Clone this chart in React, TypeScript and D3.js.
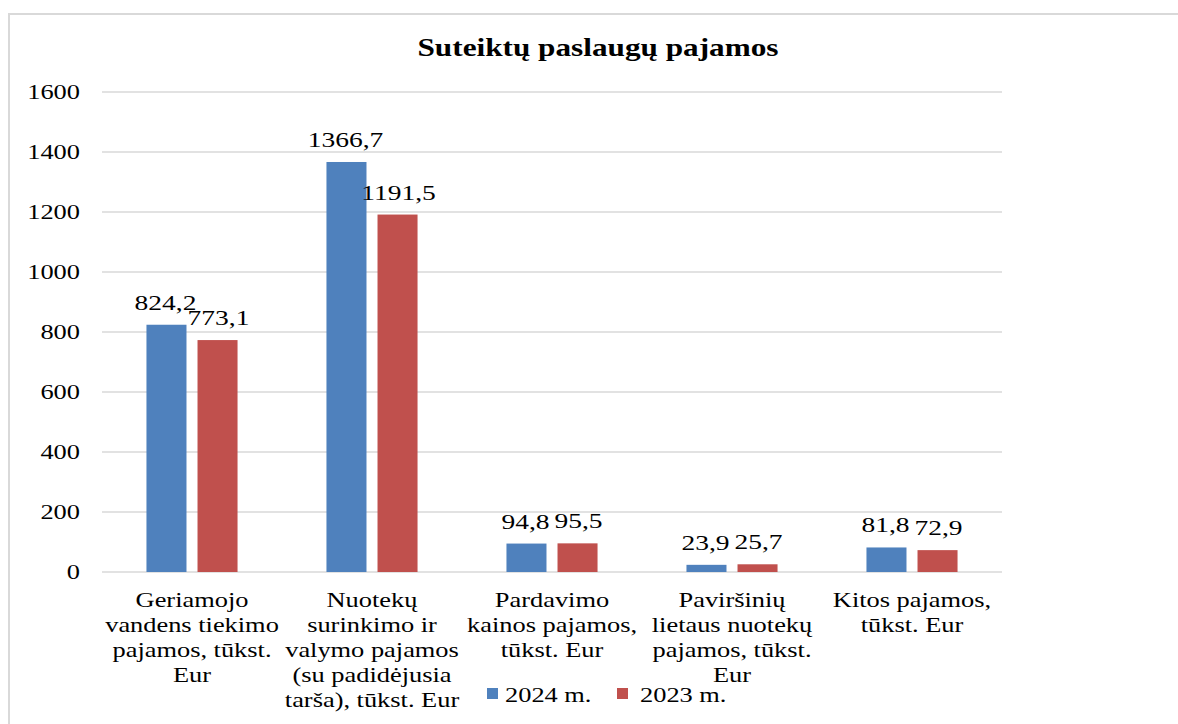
import React from "react";
import * as d3 from "d3";

const categories: string[][] = [
  ["Geriamojo", "vandens tiekimo", "pajamos, tūkst.", "Eur"],
  ["Nuotekų", "surinkimo ir", "valymo pajamos", "(su padidėjusia", "tarša), tūkst. Eur"],
  ["Pardavimo", "kainos pajamos,", "tūkst. Eur"],
  ["Paviršinių", "lietaus nuotekų", "pajamos, tūkst.", "Eur"],
  ["Kitos pajamos,", "tūkst. Eur"],
];
const categoryKeys = ["c1", "c2", "c3", "c4", "c5"];
const seriesNames = ["2024 m.", "2023 m."];
const values2024 = [824.2, 1366.7, 94.8, 23.9, 81.8];
const values2023 = [773.1, 1191.5, 95.5, 25.7, 72.9];
const seriesColors = ["#4F81BD", "#C0504D"];
const yTicks = [0, 200, 400, 600, 800, 1000, 1200, 1400, 1600];
const title = "Suteiktų paslaugų pajamos";

const W = 1178;
const H = 724;
const SX = 1.2;
const FONT = '"Liberation Serif", Tinos, "Times New Roman", Times, serif';

function T(props: {
  x: number;
  y: number;
  anchor?: string;
  size?: number;
  weight?: string;
  sx?: number;
  children: React.ReactNode;
}) {
  const { x, y, anchor = "middle", size = 22, weight = "normal", sx = SX } = props;
  return (
    <text
      transform={`translate(${x},${y}) scale(${sx},1)`}
      textAnchor={anchor}
      style={{ fontFamily: FONT, fontSize: size, fontWeight: weight as any }}
      fill="#000"
    >
      {props.children}
    </text>
  );
}

export default function App() {
  const x0 = d3
    .scaleBand<string>()
    .domain(categoryKeys)
    .range([102, 1002])
    .paddingInner(0.494)
    .paddingOuter(0.247);
  const x1 = d3
    .scaleBand<string>()
    .domain(seriesNames)
    .range([0, x0.bandwidth()])
    .paddingInner(0.216);
  const y = d3.scaleLinear().domain([0, 1600]).range([572, 92]);
  const series = [values2024, values2023];

  return (
    <svg
      width={W}
      height={H}
      style={{ position: "fixed", left: 0, top: 0, background: "#fff" }}
    >
      <rect x={0} y={0} width={W} height={H} fill="#fff" />
      <line x1={8} y1={14} x2={W} y2={14} stroke="#d9d9d9" strokeWidth={2} />
      <line x1={9} y1={13} x2={9} y2={H} stroke="#d9d9d9" strokeWidth={2} />

      <T x={598} y={56} size={25} weight="bold" sx={1.25}>
        {title}
      </T>

      {yTicks.map((t) => (
        <g key={t}>
          <line
            x1={102}
            x2={1002}
            y1={y(t)}
            y2={y(t)}
            stroke="#d9d9d9"
            strokeWidth={1.5}
          />
          <T x={80} y={y(t) + 7} anchor="end">
            {t}
          </T>
        </g>
      ))}

      {categoryKeys.map((k, i) =>
        series.map((vals, s) => {
          const bx = (x0(k) as number) + (x1(seriesNames[s]) as number);
          const bw = x1.bandwidth();
          const v = vals[i];
          return (
            <g key={k + s}>
              <rect
                x={bx}
                y={y(v)}
                width={bw}
                height={y(0) - y(v)}
                fill={seriesColors[s]}
              />
              <T x={bx + bw / 2 + (s === 0 ? -1 : 1)} y={y(v) - 15} sx={1.25}>
                {v.toFixed(1).replace(".", ",")}
              </T>
            </g>
          );
        })
      )}

      {categoryKeys.map((k, i) => {
        const cx = (x0(k) as number) + x0.bandwidth() / 2;
        return categories[i].map((line, j) => (
          <T key={k + j} x={cx} y={607 + j * 25}>
            {line}
          </T>
        ));
      })}

      {seriesNames.map((name, s) => {
        const lx = 487 + s * 130;
        return (
          <g key={name}>
            <rect x={lx} y={688} width={11} height={11} fill={seriesColors[s]} />
            <T x={lx + 18 + (s === 1 ? 5 : 0)} y={702} anchor="start">
              {name}
            </T>
          </g>
        );
      })}
    </svg>
  );
}
